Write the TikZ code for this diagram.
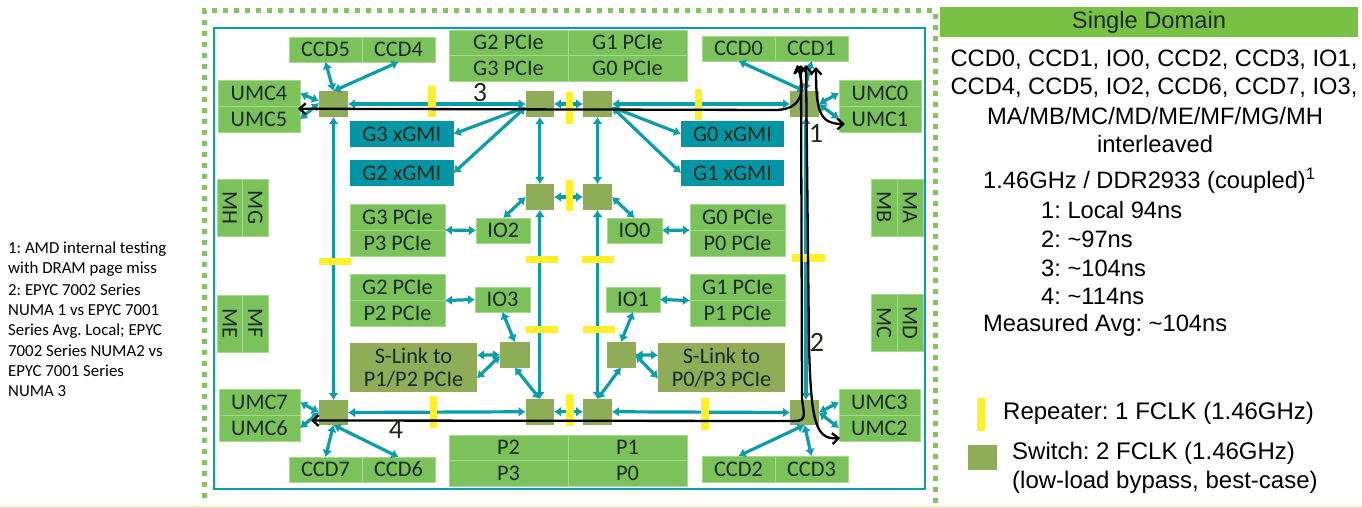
\documentclass[tikz,border=0pt]{standalone}
\usepackage{fontspec}
\setmainfont{Carlito}
\newfontfamily\arfont{Liberation Sans}
\usetikzlibrary{arrows.meta,calc}
\definecolor{cellgreen}{HTML}{7CC25A}
\definecolor{celledge}{HTML}{A6D88E}
\definecolor{swolive}{HTML}{8FAC57}
\definecolor{linkteal}{HTML}{0B9DAB}
\definecolor{xgmiteal}{HTML}{0096A6}
\definecolor{repyellow}{HTML}{FFF02A}
\definecolor{headgreen}{HTML}{78C144}
\definecolor{dotgreen}{HTML}{84C45E}
\definecolor{peach}{HTML}{FBE6C6}
\definecolor{inktext}{HTML}{1A2A1A}
\newcommand{\mkbox}[7][cell]{\node[#1,minimum width={(#5-#3)*1pt},minimum height={(#6-#4)*1pt}] (#2) at ({(#3+#5)/2},{(#4+#6)/2}) {#7};}
\tikzset{
  basebox/.style={rectangle,inner sep=0pt,outer sep=0pt,text=inktext,font=\fontsize{22.3}{24}\selectfont,align=center},
  cell/.style={basebox,fill=cellgreen,draw=celledge,line width=0.7pt},
  xgmi/.style={basebox,fill=xgmiteal,draw=none},
  slink/.style={basebox,fill=swolive,draw=none,font=\fontsize{22.3}{23}\selectfont},
  switchbox/.style={basebox,fill=swolive},
  repeater/.style={basebox,fill=repyellow},
  lnk/.style={draw=linkteal,line width=3.2pt,{Latex[length=7pt,width=10pt]}-{Latex[length=7pt,width=10pt]}},
  route/.style={draw=black,line width=2.3pt,{Straight Barb[length=6pt,width=11pt]}-{Straight Barb[length=6pt,width=11pt]}},
  numlabel/.style={text=inktext,inner sep=0pt,font=\fontsize{28}{30}\selectfont},
  paneltext/.style={inner sep=0pt,text=black,font=\arfont\fontsize{23.7}{26}\selectfont,anchor=west},
  legendtext/.style={paneltext,font=\arfont\fontsize{24}{26}\selectfont},
  panelcenter/.style={inner sep=0pt,text=black,font=\arfont\fontsize{23.7}{26}\selectfont},
  notetext/.style={inner sep=0pt,anchor=west,text=black,font=\fontsize{16.8}{18}\selectfont},
}
\begin{document}
\frenchspacing
\begin{tikzpicture}[x=1pt,y=-1pt]
\useasboundingbox (0,0) rectangle (1362,508);
\fill[white] (0,0) rectangle (1362,508);
\fill[peach] (0,505.5) rectangle (1362,508);
% frames
\coordinate (dotA) at (204,498);
\coordinate (dotB) at (204,11);
\coordinate (dotC) at (935,11);
\coordinate (dotD) at (935,503);
\draw[dotgreen,line width=5pt,dash pattern=on 5pt off 6pt] (dotA) -- (dotB) -- (dotC) -- (dotD);
\draw[linkteal,line width=2.4pt] (214,28) rectangle (925,489);
% cells
\mkbox{ccd5}{289}{37}{362}{62}{CCD5}
\mkbox{ccd4}{362}{37}{435}{62}{CCD4}
\mkbox{tg2}{449}{30}{568}{55.5}{G2 PCIe}
\mkbox{tg1}{568}{30}{687}{55.5}{G1 PCIe}
\mkbox{tg3}{449}{55.5}{568}{81}{G3 PCIe}
\mkbox{tg0}{568}{55.5}{687}{81}{G0 PCIe}
\mkbox{ccd0}{702}{36}{775}{61}{CCD0}
\mkbox{ccd1}{775}{36}{848}{61}{CCD1}
\mkbox{umc4}{218}{80.5}{300}{106.5}{UMC4}
\mkbox{umc5}{218}{106.5}{300}{132}{UMC5}
\mkbox{umc0}{839}{80}{921}{106}{UMC0}
\mkbox{umc1}{839}{106}{921}{132}{UMC1}
\mkbox[xgmi]{g3x}{350}{121}{453.5}{147}{G3 xGMI}
\mkbox[xgmi]{g2x}{350}{160}{453.5}{186}{G2 xGMI}
\mkbox[xgmi]{g0x}{681}{121}{784}{147}{G0 xGMI}
\mkbox[xgmi]{g1x}{681}{160}{784}{186}{G1 xGMI}
\mkbox{mh}{217}{179}{242.5}{236}{\rotatebox{-90}{MH}}
\mkbox{mg}{242.5}{179}{268}{236}{\rotatebox{-90}{MG}}
\mkbox{mb}{871}{179}{897}{236}{\rotatebox{-90}{MB}}
\mkbox{ma}{897}{179}{923}{236}{\rotatebox{-90}{MA}}
\mkbox{me}{217}{295}{242.5}{352}{\rotatebox{-90}{ME}}
\mkbox{mf}{242.5}{295}{268}{352}{\rotatebox{-90}{MF}}
\mkbox{mc}{871}{294}{897}{351}{\rotatebox{-90}{MC}}
\mkbox{md}{897}{294}{923}{351}{\rotatebox{-90}{MD}}
\mkbox{g3p}{350}{204.5}{445}{230}{G3 PCIe}
\mkbox{p3p}{350}{230}{445}{256}{P3 PCIe}
\mkbox{g0p}{690}{204.5}{785}{230}{G0 PCIe}
\mkbox{p0p}{690}{230}{785}{256}{P0 PCIe}
\mkbox{io2}{476}{218}{530.5}{243}{IO2}
\mkbox{io0}{607}{218}{662}{243}{IO0}
\mkbox{g2p}{350}{274}{445}{300.5}{G2 PCIe}
\mkbox{p2p}{350}{300.5}{445}{326}{P2 PCIe}
\mkbox{g1p}{690}{274}{785}{300.5}{G1 PCIe}
\mkbox{p1p}{690}{300.5}{785}{326}{P1 PCIe}
\mkbox{io3}{475}{287}{530}{312}{IO3}
\mkbox{io1}{606}{287}{660}{312}{IO1}
\mkbox[slink]{sl1}{350}{343}{477}{391.5}{S-Link to\\P1/P2 PCIe}
\mkbox[slink]{sl2}{658}{343}{785}{391.5}{S-Link to\\P0/P3 PCIe}
\mkbox{umc7}{219}{389.5}{300}{415}{UMC7}
\mkbox{umc6}{219}{415}{300}{441}{UMC6}
\mkbox{umc3}{839}{389.5}{920}{415}{UMC3}
\mkbox{umc2}{839}{415}{920}{441}{UMC2}
\mkbox{ccd7}{289}{457}{362}{482}{CCD7}
\mkbox{ccd6}{362}{457}{435}{482}{CCD6}
\mkbox{ccd2}{702}{456}{775}{482}{CCD2}
\mkbox{ccd3}{775}{456}{848}{482}{CCD3}
\mkbox{pp2}{449}{435}{568}{460.5}{P2}
\mkbox{pp1}{568}{435}{687}{460.5}{P1}
\mkbox{pp3}{449}{460.5}{568}{486}{P3}
\mkbox{pp0}{568}{460.5}{687}{486}{P0}
% switches
\mkbox[switchbox]{swTL}{319}{91}{348}{117}{}
\mkbox[switchbox]{swT2}{525.7}{91}{554}{117}{}
\mkbox[switchbox]{swT3}{583}{91}{612}{117}{}
\mkbox[switchbox]{swTR}{790}{91}{819}{117}{}
\mkbox[switchbox]{swM2}{525.7}{184}{554}{210}{}
\mkbox[switchbox]{swM3}{583}{184}{612}{210}{}
\mkbox[switchbox]{swSL}{500}{342}{529.5}{367.5}{}
\mkbox[switchbox]{swSR}{606.5}{342}{635.5}{367.5}{}
\mkbox[switchbox]{swBL}{319}{400}{348}{425}{}
\mkbox[switchbox]{swB2}{525.7}{399}{554}{424.5}{}
\mkbox[switchbox]{swB3}{583}{399}{612}{424.5}{}
\mkbox[switchbox]{swBR}{790}{400}{819}{425}{}
% links
\draw[lnk] (swTL.north) -- (ccd5.south);
\draw[lnk] (swTL.north) -- (ccd4.south);
\draw[lnk] ([yshift=3pt]swTL.west) -- (umc4.east);
\draw[lnk] ([yshift=1pt]swTL.west) -- (umc5.east);
\draw[lnk] (swTL.east) -- (swT2.west);
\draw[lnk] (swTL.south) -- (swBL.north);
\draw[lnk] ([yshift=-3pt]swT2.west) -- (g3x.east);
\draw[lnk] ([yshift=-3pt]swT2.west) -- (g2x.east);
\draw[lnk] (swT2.east) -- (swT3.west);
\draw[lnk] (swT2.south) -- (swM2.north);
\draw[lnk] (swT3.south) -- (swM3.north);
\draw[lnk] (swT3.east) -- (swTR.west);
\draw[lnk] ([yshift=-3pt]swT3.east) -- (g0x.west);
\draw[lnk] ([yshift=-3pt]swT3.east) -- (g1x.west);
\draw[lnk] (swM2.east) -- (swM3.west);
\draw[lnk] (swM2.west) -- (io2.north);
\draw[lnk] (swM3.east) -- (io0.north);
\draw[lnk] (g3p.south east) -- (io2.west);
\draw[lnk] (io0.east) -- (g0p.south west);
\draw[lnk] (swM2.south) -- (swB2.north);
\draw[lnk] (swM3.south) -- (swB3.north);
\draw[lnk] (g2p.south east) -- (io3.west);
\draw[lnk] (io1.east) -- (g1p.south west);
\draw[lnk] (io3.south) -- (swSL.north);
\draw[lnk] (io1.south) -- (swSR.north);
\draw[lnk] ([yshift=12pt]sl1.east) -- (swSL.west);
\draw[lnk] ([yshift=-11pt]sl1.east) -- ([yshift=-1pt]swSL.west);
\draw[lnk] (swSL.south) -- (swB2.north);
\draw[lnk] (swSR.south) -- (swB3.north);
\draw[lnk] (swSR.east) -- ([yshift=12pt]sl2.west);
\draw[lnk] (swSR.east) -- ([yshift=-11pt]sl2.west);
\draw[lnk] (swBL.east) -- (swB2.west);
\draw[lnk] (swB2.east) -- (swB3.west);
\draw[lnk] (swB3.east) -- (swBR.west);
\draw[lnk] (swBL.west) -- (umc7.east);
\draw[lnk] (swBL.west) -- (umc6.east);
\draw[lnk] (swBL.south) -- (ccd7.north);
\draw[lnk] (swBL.south) -- (ccd6.north);
\draw[lnk] (swBR.east) -- (umc3.west);
\draw[lnk] (swBR.east) -- (umc2.west);
\draw[lnk] (swBR.south) -- (ccd2.north);
\draw[lnk] (swBR.south) -- (ccd3.north);
\draw[lnk] (swTR.north) -- (ccd0.south);
\draw[lnk] (swTR.north) -- (ccd1.south);
\draw[lnk] (swTR.east) -- (umc0.west);
\draw[lnk] (swTR.east) -- (umc1.west);
\draw[lnk] ([xshift=1.5pt]swTR.south) -- ([xshift=1.5pt]swBR.north);
% repeaters
\mkbox[repeater]{r1}{428}{86}{436}{117}{}
\mkbox[repeater]{r2}{565.5}{92}{573}{124}{}
\mkbox[repeater]{r3}{695}{89}{702}{120}{}
\mkbox[repeater]{r4}{565.5}{180}{573}{211}{}
\mkbox[repeater]{r5}{319}{258}{351}{265}{}
\mkbox[repeater]{r6}{526}{256}{558}{263}{}
\mkbox[repeater]{r7}{582}{256}{614}{263}{}
\mkbox[repeater]{r8}{792}{254}{825}{262}{}
\mkbox[repeater]{r9}{526}{326}{558}{333}{}
\mkbox[repeater]{r10}{582.5}{326}{615}{333}{}
\mkbox[repeater]{r11}{430}{396}{437}{428}{}
\mkbox[repeater]{r12}{566}{393.5}{573.5}{426}{}
\mkbox[repeater]{r13}{701}{398}{709}{430}{}
% black routes
\draw[route] ([xshift=-14.5pt,yshift=-4pt]ccd1.south) .. controls (803,82) and (808,110) .. (775,110) -- ([xshift=-2pt,yshift=10.5pt]umc5.east);
\draw[route] ([xshift=4.5pt,yshift=-6pt]ccd1.south) .. controls (816,110) and (819,124) .. ([xshift=6pt,yshift=-5pt]umc1.west);
\draw[route] ([xshift=-5.5pt,yshift=-4pt]ccd1.south) -- (809,345) .. controls (811,420) and (815,440) .. ([xshift=1pt,yshift=-10pt]umc2.west);
\draw[route] ([xshift=-10.5pt,yshift=-4pt]ccd1.south) -- (802,398) .. controls (803,412) and (808,421) .. (795,421) -- ([xshift=11pt,yshift=7.5pt]umc6.east);
% numbers
\node[numlabel] (n3) at (480,93) {3};
\node[numlabel] (n1) at (816,133) {1};
\node[numlabel] (n2) at (817,342) {2};
\node[numlabel] (n4) at (396,430) {4};
% panel
\node[rectangle,inner sep=0pt,fill=headgreen,minimum width=418pt,minimum height=30pt,text=inktext,font=\arfont\fontsize{23.7}{26}\selectfont] (head) at (1149,22) {Single Domain};
\node[panelcenter] (t1) at (1154,60) {CCD0, CCD1, IO0, CCD2, CCD3, IO1,};
\node[panelcenter] (t2) at (1154,88) {CCD4, CCD5, IO2, CCD6, CCD7, IO3,};
\node[panelcenter] (t3) at (1155,116) {MA/MB/MC/MD/ME/MF/MG/MH};
\node[panelcenter] (t4) at (1155,144) {interleaved};
\node[paneltext] (t5) at (983,181) {1.46GHz / DDR2933 (coupled)\textsuperscript{1}};
\node[paneltext] (t6) at (1041,210) {1: Local 94ns};
\node[paneltext] (t7) at (1041,239) {2: \textasciitilde97ns};
\node[paneltext] (t8) at (1041,268) {3: \textasciitilde104ns};
\node[paneltext] (t9) at (1041,296) {4: \textasciitilde114ns};
\node[paneltext] (t10) at (983,325) {Measured Avg: \textasciitilde104ns};
\mkbox[repeater]{legR}{977}{398}{985}{431}{}
\mkbox[switchbox]{legS}{967.5}{445}{996.5}{470}{}
\node[legendtext] (t11) at (1003,413) {Repeater: 1 FCLK (1.46GHz)};
\node[legendtext] (t12) at (1012,453) {Switch: 2 FCLK (1.46GHz)};
\node[legendtext] (t13) at (1012,482) {(low-load bypass, best-case)};
% note
\node[notetext] (a1) at (8,249) {1: AMD internal testing};
\node[notetext] (a2) at (8,269) {with DRAM page miss};
\node[notetext] (a3) at (8,290) {2: EPYC 7002 Series};
\node[notetext] (a4) at (8,310) {NUMA 1 vs EPYC 7001};
\node[notetext] (a5) at (8,331) {Series Avg. Local; EPYC};
\node[notetext] (a6) at (8,351) {7002 Series NUMA2 vs};
\node[notetext] (a7) at (8,371) {EPYC 7001 Series};
\node[notetext] (a8) at (8,391) {NUMA 3};
\end{tikzpicture}
\end{document}
